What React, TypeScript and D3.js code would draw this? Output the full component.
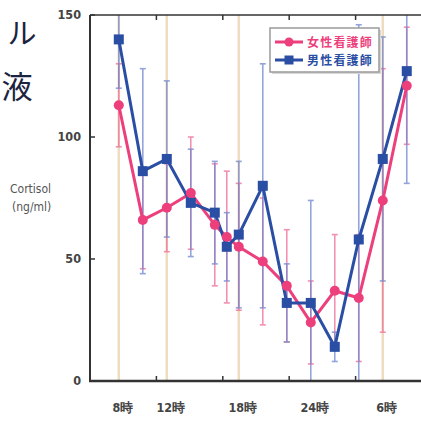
import React from "react";
import * as d3 from "d3";

const hours = [8, 10, 12, 14, 16, 17, 18, 20, 22, 24, 26, 28, 30, 32];
const femaleMean = [113, 66, 71, 77, 64, 59, 55, 49, 39, 24, 37, 34, 74, 121];
const femaleSd = [17, 20, 18, 23, 25, 27, 26, 26, 23, 17, 23, 26, 54, 24];
const maleMean = [140, 86, 91, 73, 69, 55, 60, 80, 32, 32, 14, 58, 91, 127];
const maleSd = [20, 42, 32, 22, 21, 14, 30, 50, 16, 42, 6, 88, 50, 46];
const markerHours = [8, 12, 18, 30];
const yTicks = [0, 50, 100, 150];
const xLabelHours = [8, 12, 18, 24, 30];
const xLabels = ["8時", "12時", "18時", "24時", "6時"];
const legendLabels = ["女性看護師", "男性看護師"];
const sideTexts = ["ル", "液"];

const PINK = "#ec3f7c";
const BLUE = "#2a4ea3";
const PINK_BAR = "#f06c98";
const BLUE_BAR = "#6f86d0";

export default function App() {
  const left = 90, right = 422, top = 15, bottom = 381;
  const x = d3.scaleLinear().domain([5.6, 33.27]).range([left, right]);
  const y = d3.scaleLinear().domain([0, 150]).range([bottom, top]);
  const clampY = (v: number) => y(Math.max(0, Math.min(150, v)));
  const line = d3.line<number>().x((_, i) => x(hours[i])).y((v) => y(v));
  const xTickPos = d3.range(1, 5).map((i) => left + ((right - left) * i) / 5);

  const errBars = (mean: number[], sd: number[], color: string) =>
    mean.map((m, i) => {
      const cx = x(hours[i]);
      const hi = m + sd[i];
      const lo = m - sd[i];
      return (
        <g key={i} stroke={color} strokeWidth={1.6} opacity={0.75}>
          <line x1={cx} x2={cx} y1={clampY(hi)} y2={clampY(lo)} />
          {hi <= 150 && <line x1={cx - 3} x2={cx + 3} y1={y(hi)} y2={y(hi)} />}
          {lo >= 0 && <line x1={cx - 3} x2={cx + 3} y1={y(lo)} y2={y(lo)} />}
        </g>
      );
    });

  return (
    <svg width={421} height={421} style={{ position: "absolute", left: 0, top: 0, background: "#fff" }}
      fontFamily="'Liberation Sans Narrow', 'DejaVu Sans Condensed', Arial, sans-serif">
      <text x={22} y={44} textAnchor="middle" fontSize={29} fill="#1c2340" fontFamily="'Noto Sans CJK JP'">{sideTexts[0]}</text>
      <text x={17} y={98} textAnchor="middle" fontSize={31} fill="#1c2340" fontFamily="'Noto Sans CJK JP'">{sideTexts[1]}</text>

      {markerHours.map((h) => (
        <line key={h} x1={x(h)} x2={x(h)} y1={top} y2={bottom} stroke="#eddcbf" strokeWidth={2.5} />
      ))}

      {errBars(femaleMean, femaleSd, PINK_BAR)}
      {errBars(maleMean, maleSd, BLUE_BAR)}

      <path d={line(femaleMean) || ""} fill="none" stroke={PINK} strokeWidth={3} />
      <path d={line(maleMean) || ""} fill="none" stroke={BLUE} strokeWidth={3} />
      {femaleMean.map((v, i) => (
        <circle key={i} cx={x(hours[i])} cy={y(v)} r={5} fill={PINK} />
      ))}
      {maleMean.map((v, i) => (
        <rect key={i} x={x(hours[i]) - 5} y={y(v) - 5} width={10} height={10} fill={BLUE} />
      ))}

      <g stroke="#333" fill="none">
        <line x1={left} x2={right} y1={top} y2={top} strokeWidth={1.5} />
        <line x1={left} x2={left} y1={top} y2={bottom} strokeWidth={2} />
        <line x1={left - 1} x2={right} y1={bottom} y2={bottom} strokeWidth={2.5} />
        {xTickPos.map((p, i) => (
          <g key={i}>
            <line x1={p} x2={p} y1={top} y2={top + 5} strokeWidth={1.5} />
            <line x1={p} x2={p} y1={bottom} y2={bottom - 5} strokeWidth={1.5} />
          </g>
        ))}
        {yTicks.map((t) => (
          <line key={t} x1={left} x2={left + 5} y1={y(t)} y2={y(t)} strokeWidth={1.5} />
        ))}
      </g>

      {yTicks.map((t) => (
        <text key={t} x={81} y={y(t) + 4} textAnchor="end" fontSize={12.5} fill="#444" fontWeight="bold">{t}</text>
      ))}
      {xLabelHours.map((h, i) => (
        <text key={h} x={x(h) + 4} y={412} textAnchor="middle" fontSize={12.5} fill="#444" fontWeight="bold">{xLabels[i]}</text>
      ))}
      <text x={10} y={193} fontSize={12} fill="#555">Cortisol</text>
      <text x={12} y={211} fontSize={12} fill="#555">(ng/ml)</text>

      <g>
        <rect x={272} y={30} width={109} height={44} fill="#d8d8d8" />
        <rect x={270} y={28} width={109} height={44} fill="#fff" stroke="#9a9a9a" strokeWidth={1.5} />
        <line x1={275} x2={303} y1={42} y2={42} stroke={PINK} strokeWidth={3} />
        <circle cx={289} cy={42} r={4.5} fill={PINK} />
        <text x={307} y={46.5} fontSize={12} letterSpacing={1.2} fill={PINK} fontFamily="'Noto Sans CJK JP'" fontWeight="bold">{legendLabels[0]}</text>
        <line x1={275} x2={303} y1={60} y2={60} stroke={BLUE} strokeWidth={3} />
        <rect x={284.5} y={55.5} width={9} height={9} fill={BLUE} />
        <text x={307} y={64.5} fontSize={12} letterSpacing={1.2} fill={BLUE} fontFamily="'Noto Sans CJK JP'" fontWeight="bold">{legendLabels[1]}</text>
      </g>
    </svg>
  );
}
